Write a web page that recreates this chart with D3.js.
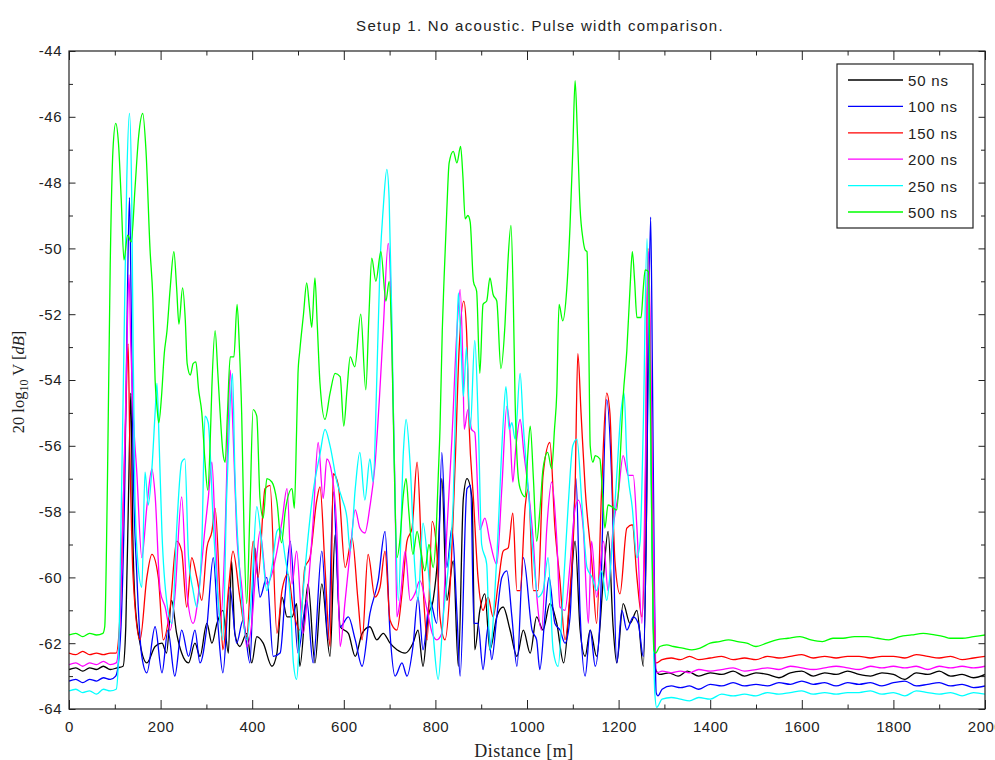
<!DOCTYPE html>
<meta charset="utf-8">
<style>
body { margin: 0; background: #fff; }
text { font-family: "Liberation Sans", Arial, sans-serif; }
.tick text { font-size: 15px; fill: #222; letter-spacing: 0.5px; }
.tick line { stroke: #222; }
.serif { font-family: "Liberation Serif", "DejaVu Serif", serif; }
</style>
<svg width="995" height="760"></svg>
<script src="https://d3js.org/d3.v7.min.js"></script>
<script>

// x ticks, y ticks
const xTicks = [0, 200, 400, 600, 800, 1000, 1200, 1400, 1600, 1800, 2000];
const yTicks = [-64, -62, -60, -58, -56, -54, -52, -50, -48, -46, -44];

const labels = ['50 ns', '100 ns', '150 ns', '200 ns', '250 ns', '500 ns'];
const colors = ['#000000', '#0000ff', '#ff0000', '#ff00ff', '#00ffff', '#00ff00'];

// [distance m, 20 log10 V dB]
const ns50 = [[0,-62.8],[15,-62.75],[30,-62.85],[45,-62.75],[60,-62.8],[75,-62.7],[90,-62.8],[105,-62.75],[118,-62.7],[124,-61.5],[130,-57.5],[135,-54.4],[139,-58.5],[144,-60.7],[155,-62.0],[170,-62.6],[188,-62.1],[203,-62.0],[213,-62.3],[224,-60.7],[235,-61.7],[246,-62.3],[261,-62.6],[275,-62.0],[286,-62.4],[301,-61.4],[312,-62.0],[323,-61.4],[336,-61.0],[348,-62.3],[355,-59.5],[362,-61.7],[373,-62.1],[388,-61.7],[399,-62.6],[410,-61.8],[424,-62.0],[443,-62.7],[454,-62.3],[465,-60.6],[476,-61.2],[487,-61.2],[497,-60.8],[504,-62.7],[522,-60.2],[537,-62.6],[552,-60.2],[570,-62.4],[581,-58.7],[592,-61.5],[610,-61.7],[625,-62.4],[640,-61.7],[657,-61.5],[672,-61.9],[686,-61.7],[701,-62.0],[716,-62.2],[734,-62.3],[751,-62.0],[762,-61.6],[773,-62.7],[784,-61.2],[795,-60.7],[806,-59.2],[814,-57.0],[825,-60.7],[839,-59.5],[850,-62.7],[861,-57.6],[869,-57.0],[880,-57.6],[886,-62.2],[897,-61.0],[908,-60.5],[919,-62.2],[934,-61.2],[948,-60.9],[963,-61.6],[978,-62.4],[992,-61.6],[1007,-62.3],[1021,-61.2],[1035,-61.6],[1050,-60.8],[1065,-61.4],[1080,-62.6],[1094,-60.6],[1105,-58.9],[1116,-61.6],[1127,-62.4],[1138,-61.6],[1152,-62.4],[1167,-60.0],[1177,-58.6],[1188,-61.5],[1196,-62.6],[1210,-60.8],[1225,-61.4],[1240,-61.0],[1254,-62.7],[1261,-58],[1266,-51.7],[1271,-56],[1276,-61.5],[1281,-62.8],[1290,-62.95],[1310,-62.9],[1330,-63.0],[1350,-62.85],[1375,-63.0],[1400,-62.9],[1425,-62.95],[1450,-62.85],[1475,-63.0],[1500,-62.9],[1525,-62.95],[1550,-63.05],[1575,-62.9],[1600,-62.85],[1625,-63.0],[1650,-62.9],[1675,-62.95],[1700,-62.85],[1725,-62.95],[1750,-63.0],[1775,-62.9],[1800,-62.95],[1825,-63.1],[1850,-62.9],[1875,-62.95],[1900,-62.85],[1925,-63.0],[1950,-62.95],[1975,-63.05],[2000,-62.95]];

const ns100 = [[0,-63.15],[15,-63.1],[30,-63.2],[45,-63.1],[60,-63.15],[75,-63.05],[90,-63.1],[102,-63.0],[108,-62.6],[115,-61],[122,-57],[127,-52],[132,-48.45],[136,-52],[140,-56.5],[148,-59.9],[159,-62.4],[170,-62.9],[188,-61.5],[203,-62.9],[216,-61.6],[231,-63.0],[246,-61.6],[261,-62.4],[275,-61.6],[286,-62.6],[301,-61.5],[315,-59.4],[325,-61.4],[336,-62.9],[351,-60.3],[366,-62.0],[380,-61.3],[395,-62.6],[406,-59.1],[417,-60.6],[432,-60.0],[446,-62.4],[461,-62.3],[472,-60.5],[483,-58.9],[500,-62.3],[519,-60.7],[533,-62.6],[552,-59.2],[566,-61.9],[577,-57.4],[592,-61.5],[610,-61.2],[625,-61.9],[640,-62.7],[657,-61.1],[675,-60.1],[690,-58.6],[701,-61.7],[712,-63.0],[727,-62.6],[738,-63.0],[751,-62.1],[762,-60.6],[773,-62.2],[788,-60.7],[803,-61.4],[814,-56.2],[825,-59.7],[836,-58.5],[847,-61.1],[854,-63.0],[869,-57.3],[877,-57.2],[884,-61.4],[893,-61.4],[904,-62.8],[915,-61.5],[923,-62.5],[934,-61.2],[945,-60.0],[956,-59.8],[967,-61.2],[978,-62.7],[992,-59.4],[1011,-61.6],[1021,-61.9],[1028,-62.8],[1039,-61.2],[1048,-60.0],[1061,-61.4],[1072,-61.6],[1083,-62.0],[1094,-61.2],[1107,-57.0],[1116,-61.1],[1127,-63.0],[1138,-61.6],[1149,-62.7],[1159,-61.4],[1174,-54.6],[1185,-57.0],[1196,-62.6],[1207,-61.0],[1218,-61.6],[1232,-61.2],[1243,-61.4],[1254,-62.4],[1260,-59],[1265,-53],[1270,-49.05],[1274,-54],[1278,-60],[1282,-63.5],[1286,-63.6],[1295,-63.4],[1315,-63.3],[1335,-63.35],[1355,-63.3],[1375,-63.4],[1400,-63.25],[1425,-63.3],[1450,-63.2],[1475,-63.3],[1500,-63.25],[1525,-63.3],[1550,-63.2],[1575,-63.25],[1600,-63.15],[1625,-63.25],[1650,-63.2],[1675,-63.3],[1700,-63.2],[1725,-63.25],[1750,-63.2],[1775,-63.3],[1800,-63.2],[1825,-63.15],[1850,-63.3],[1875,-63.25],[1900,-63.2],[1925,-63.3],[1950,-63.25],[1975,-63.35],[2000,-63.3]];

const ns150 = [[0,-62.3],[15,-62.35],[30,-62.25],[45,-62.35],[60,-62.3],[75,-62.35],[90,-62.3],[103,-62.3],[110,-61.5],[118,-58],[124,-55],[129,-52.9],[133,-56.2],[140,-60],[155,-61.9],[170,-60.0],[181,-59.3],[195,-60.0],[206,-61.9],[221,-60.9],[235,-58.9],[246,-59.2],[257,-60.9],[268,-59.4],[279,-60.0],[290,-60.7],[301,-59.1],[312,-58.6],[319,-57.9],[330,-60.7],[336,-62.2],[348,-60.4],[358,-59.2],[373,-60.6],[388,-61.8],[402,-58.9],[413,-60.0],[428,-57.3],[439,-57.2],[454,-61.7],[465,-60.4],[478,-59.9],[490,-61.0],[504,-61.6],[515,-59.7],[526,-59.4],[541,-57.65],[548,-57.25],[559,-59.7],[570,-62.1],[577,-56.85],[588,-57.2],[603,-59.7],[618,-58.8],[631,-60.7],[640,-61.9],[653,-59.3],[668,-60.6],[679,-60.3],[690,-59.2],[701,-61.3],[716,-61.6],[727,-60.5],[738,-58.9],[749,-58.5],[760,-56.5],[771,-59.7],[782,-61.9],[793,-58.3],[803,-59.2],[810,-61.2],[821,-61.9],[832,-60.3],[843,-56.6],[852,-53],[862,-51.6],[868,-52.5],[874,-55.5],[883,-57.6],[893,-60.0],[904,-61.0],[915,-60.6],[926,-61.2],[937,-60.2],[948,-59.2],[959,-59.1],[969,-58.05],[978,-60.4],[985,-60.4],[996,-57.85],[1003,-57.3],[1014,-60.4],[1024,-60.4],[1035,-56.9],[1050,-55.9],[1061,-58.5],[1072,-60.1],[1083,-61.9],[1094,-60.4],[1105,-57.3],[1111,-53.2],[1118,-55],[1127,-57.3],[1142,-59.6],[1152,-61.4],[1163,-57.3],[1174,-54.4],[1181,-55.0],[1192,-59.5],[1203,-60.5],[1218,-58.5],[1230,-58.4],[1240,-60.0],[1251,-61.2],[1258,-58],[1264,-50.0],[1270,-54],[1276,-60],[1282,-62.6],[1295,-62.5],[1315,-62.45],[1335,-62.5],[1355,-62.4],[1375,-62.5],[1400,-62.45],[1425,-62.4],[1450,-62.5],[1475,-62.45],[1500,-62.5],[1525,-62.4],[1550,-62.45],[1575,-62.4],[1600,-62.35],[1625,-62.45],[1650,-62.4],[1675,-62.45],[1700,-62.4],[1725,-62.4],[1750,-62.45],[1775,-62.4],[1800,-62.4],[1825,-62.45],[1850,-62.35],[1875,-62.4],[1900,-62.45],[1925,-62.4],[1950,-62.5],[1975,-62.45],[2000,-62.4]];

const ns200 = [[0,-62.65],[15,-62.6],[30,-62.7],[45,-62.6],[60,-62.65],[75,-62.55],[90,-62.65],[103,-62.6],[110,-61.8],[118,-58],[125,-54],[131,-50.8],[135,-53],[140,-55],[148,-56.8],[159,-59.4],[170,-57.85],[181,-56.7],[188,-57.5],[199,-60.4],[210,-60.9],[221,-61.6],[231,-60.6],[246,-57.55],[257,-60.4],[271,-61.4],[286,-60.1],[297,-58.5],[304,-57.6],[312,-56.5],[319,-58.5],[330,-61.4],[341,-58.6],[347,-55.5],[352,-53.7],[358,-55.5],[366,-58.6],[378,-60.4],[388,-62.1],[399,-61.4],[410,-59.4],[417,-58.6],[432,-60.2],[443,-59.9],[454,-59.2],[465,-58.3],[476,-57.3],[487,-60.2],[497,-59.2],[511,-61.7],[522,-60.3],[533,-58.3],[544,-55.9],[555,-57.6],[563,-56.4],[574,-56.85],[585,-58.65],[592,-62.1],[603,-60.7],[614,-59.2],[625,-57.95],[635,-58.5],[646,-58.65],[657,-57.85],[668,-56.6],[678,-54.5],[686,-52.5],[697,-49.85],[702,-51],[706,-53.6],[712,-57.5],[716,-61.2],[723,-60.7],[734,-59.2],[745,-60.7],[755,-60.5],[766,-60.1],[782,-61.0],[793,-61.7],[803,-61.9],[814,-61.7],[825,-58.6],[836,-55.8],[847,-52.5],[854,-51.25],[860,-53.5],[863,-55.5],[871,-54.9],[879,-55.5],[886,-55.6],[897,-58.55],[908,-58.2],[919,-58.9],[934,-59.6],[945,-57.3],[956,-54.8],[963,-55.6],[969,-57.1],[976,-56],[985,-55.2],[993,-56.2],[1003,-57.35],[1014,-58.95],[1021,-60.5],[1032,-61.6],[1043,-58.55],[1054,-57.1],[1065,-58.85],[1072,-60.9],[1083,-61.0],[1094,-59.6],[1105,-57.9],[1112,-57.65],[1123,-58.55],[1134,-61.4],[1141,-58.9],[1152,-60.6],[1167,-58.9],[1177,-60.4],[1188,-58.5],[1199,-57.5],[1210,-56.3],[1221,-56.9],[1232,-56.9],[1240,-58.5],[1251,-61.4],[1258,-57],[1265,-50.1],[1271,-54],[1277,-60],[1283,-62.9],[1295,-62.85],[1315,-62.9],[1335,-62.85],[1355,-62.9],[1375,-62.8],[1400,-62.85],[1425,-62.8],[1450,-62.75],[1475,-62.85],[1500,-62.8],[1525,-62.75],[1550,-62.8],[1575,-62.7],[1600,-62.75],[1625,-62.8],[1650,-62.75],[1675,-62.7],[1700,-62.75],[1725,-62.8],[1750,-62.7],[1775,-62.75],[1800,-62.7],[1825,-62.75],[1850,-62.7],[1875,-62.8],[1900,-62.7],[1925,-62.75],[1950,-62.7],[1975,-62.75],[2000,-62.7]];

const ns250 = [[0,-63.45],[15,-63.4],[30,-63.5],[45,-63.45],[60,-63.55],[75,-63.4],[90,-63.45],[103,-63.4],[108,-62.5],[114,-58],[120,-53],[126,-48],[132,-45.9],[137,-48.5],[140,-53],[144,-57.5],[150,-59.5],[159,-60.3],[166,-56.8],[173,-57.8],[181,-56.7],[188,-55.0],[192,-54.1],[197,-56],[203,-58.65],[214,-60.8],[225,-61.4],[235,-58.55],[246,-56.5],[253,-56.4],[261,-59.4],[271,-60.4],[279,-60.9],[290,-59.0],[297,-55.1],[304,-55.3],[315,-58.35],[325,-60.6],[336,-61.9],[344,-57.65],[351,-55],[357,-53.8],[362,-56.7],[373,-59.9],[388,-61.9],[399,-60.4],[410,-57.85],[421,-59.0],[432,-60.4],[443,-59.7],[454,-58.6],[461,-58.5],[472,-59.4],[483,-60.6],[490,-62.6],[497,-63.1],[504,-61.7],[519,-59.2],[533,-57.4],[548,-56.25],[559,-55.5],[570,-56.0],[585,-57.1],[596,-57.6],[607,-58.2],[614,-59.2],[625,-57.3],[635,-56.2],[646,-57.65],[657,-56.4],[664,-57.1],[672,-54],[679,-50.5],[686,-48.8],[694,-47.6],[699,-48.5],[705,-52.2],[709,-55.5],[712,-57.65],[719,-60.7],[730,-56.2],[736,-55.2],[745,-56.6],[755,-59.7],[762,-60.7],[773,-58.35],[784,-59.7],[795,-61.7],[806,-63.1],[817,-61.2],[828,-59.7],[839,-57.65],[845,-54],[850,-51.35],[856,-53],[861,-54.5],[868,-53.0],[876,-55.5],[886,-52.8],[894,-55.5],[901,-59.0],[912,-59.6],[919,-62.2],[934,-59.4],[948,-55.3],[954,-54.2],[961,-55.5],[967,-55.3],[974,-55.8],[985,-53.8],[992,-55.4],[1003,-57.35],[1014,-59.4],[1024,-60.6],[1035,-60.4],[1046,-59.4],[1057,-62.2],[1068,-62.7],[1079,-60.4],[1090,-57.8],[1100,-56.0],[1109,-55.8],[1120,-57.8],[1131,-59.7],[1142,-60.0],[1152,-60.4],[1163,-59.8],[1174,-60.7],[1185,-59.2],[1196,-56.9],[1205,-55],[1212,-54.4],[1218,-56.4],[1230,-57.9],[1240,-59.4],[1247,-58.9],[1254,-55.3],[1262,-49.7],[1268,-54],[1274,-60],[1279,-63.5],[1283,-63.95],[1295,-63.7],[1315,-63.65],[1335,-63.7],[1355,-63.75],[1375,-63.65],[1400,-63.7],[1425,-63.55],[1450,-63.6],[1475,-63.55],[1500,-63.6],[1525,-63.5],[1550,-63.55],[1575,-63.5],[1600,-63.45],[1625,-63.55],[1650,-63.5],[1675,-63.55],[1700,-63.5],[1725,-63.5],[1750,-63.45],[1775,-63.55],[1800,-63.5],[1825,-63.6],[1850,-63.45],[1875,-63.5],[1900,-63.55],[1925,-63.5],[1950,-63.6],[1975,-63.5],[2000,-63.55]];

const ns500 = [[0,-61.75],[15,-61.7],[30,-61.8],[45,-61.7],[60,-61.75],[74,-61.7],[78,-61.5],[84,-57],[90,-50.5],[96,-47],[102,-46.2],[108,-46.8],[114,-48.5],[120,-50.35],[128,-49.6],[136,-49.8],[144,-48.2],[152,-46.6],[161,-45.9],[168,-47.0],[177,-50.05],[183,-51.5],[188,-54],[192,-54.8],[196,-55.3],[202,-54.5],[208,-53.2],[214,-52.5],[221,-51.2],[229,-50.1],[235,-51.2],[240,-52.3],[248,-51.2],[254,-52.2],[258,-53.5],[265,-53.85],[271,-53.5],[277,-53.45],[283,-54.3],[290,-55.0],[297,-56.5],[303,-57.35],[308,-56],[312,-54.2],[319,-52.5],[325,-53.8],[330,-55.0],[336,-56.2],[341,-56.5],[346,-55],[352,-53.3],[360,-53.3],[367,-51.7],[372,-53],[377,-55],[382,-58.5],[388,-60.8],[395,-58],[402,-54.9],[410,-55.1],[417,-57.6],[424,-58.2],[432,-57.0],[443,-57.1],[454,-57.7],[464,-58.95],[472,-58.0],[487,-57.3],[492,-57.9],[497,-55.5],[500,-53.8],[504,-53.1],[512,-52],[519,-51.05],[525,-51.8],[530,-52.4],[537,-50.9],[542,-52.3],[548,-54.1],[559,-55.2],[570,-54.4],[581,-53.8],[592,-53.9],[600,-55.4],[607,-54.3],[614,-53.3],[624,-53.6],[637,-52.0],[648,-54.3],[655,-52],[661,-50.3],[670,-51.0],[681,-50.1],[692,-51.6],[699,-51.0],[705,-53],[710,-56.5],[716,-59.4],[723,-58.8],[730,-57.5],[736,-57.0],[742,-58],[751,-59.3],[760,-58.6],[768,-59.2],[777,-59.8],[786,-59.0],[795,-59.7],[802,-58.5],[806,-57],[810,-55.5],[815,-52.5],[819,-50.9],[825,-48.8],[830,-47.4],[839,-47.05],[847,-47.4],[855,-46.9],[860,-47.8],[865,-49.1],[871,-49.0],[876,-49.2],[883,-51.0],[890,-51.3],[897,-53.8],[904,-51.7],[912,-51.6],[919,-50.9],[926,-51.4],[934,-51.6],[943,-53.65],[952,-52.3],[958,-50.5],[965,-49.3],[970,-51.5],[974,-54.6],[980,-56.8],[985,-57.3],[996,-57.55],[1002,-56.2],[1007,-55.4],[1014,-57],[1021,-58.9],[1028,-58],[1035,-56.7],[1045,-56.2],[1054,-56.7],[1060,-55.5],[1065,-54.4],[1070,-51.7],[1078,-52.2],[1087,-51.2],[1094,-49.3],[1100,-47],[1105,-44.9],[1110,-46.5],[1116,-48.8],[1122,-49.7],[1127,-50.05],[1131,-50.1],[1135,-53],[1138,-56.0],[1144,-56.5],[1149,-56.3],[1159,-56.4],[1165,-57.5],[1170,-58.5],[1177,-57.8],[1185,-57.85],[1196,-57.95],[1203,-56.5],[1210,-54.5],[1218,-53.1],[1225,-51.2],[1230,-50.1],[1235,-51],[1240,-52.1],[1249,-52.1],[1254,-51.2],[1258,-50.65],[1265,-50.7],[1269,-54],[1273,-59],[1277,-62.2],[1281,-62.3],[1290,-62.1],[1305,-62.05],[1320,-62.1],[1340,-62.15],[1360,-62.2],[1378,-62.15],[1400,-62.0],[1420,-61.95],[1440,-61.9],[1460,-61.95],[1480,-62.0],[1500,-62.1],[1523,-62.0],[1545,-61.9],[1570,-61.85],[1596,-61.8],[1620,-61.9],[1645,-61.95],[1668,-61.85],[1690,-61.85],[1715,-61.8],[1742,-61.8],[1765,-61.85],[1790,-61.9],[1814,-61.8],[1840,-61.75],[1865,-61.7],[1890,-61.75],[1910,-61.8],[1924,-61.85],[1950,-61.85],[1975,-61.8],[2000,-61.75]];

const series = [ns50, ns100, ns150, ns200, ns250, ns500];

let svg = d3.select('svg');
let pLeft = 69, pRight = 985, pTop = 51, pBottom = 709;

let x = d3.scaleLinear().domain([0, 2000]).range([pLeft, pRight]);
let y = d3.scaleLinear().domain([-64, -44]).range([pBottom, pTop]);

svg.append('defs').append('clipPath').attr('id', 'clip')
  .append('rect').attr('x', pLeft).attr('y', pTop)
  .attr('width', pRight - pLeft).attr('height', pBottom - pTop);

// lines
let line = d3.line()
  .x(d => x(d[0]))
  .y(d => y(d[1]))
  .curve(d3.curveMonotoneX);

svg.append('g').attr('clip-path', 'url(#clip)')
  .selectAll('path')
  .data(series)
  .enter().append('path')
    .attr('d', line)
    .attr('fill', 'none')
    .attr('stroke', (d, i) => colors[i])
    .attr('stroke-width', 1.3)
    .attr('stroke-linejoin', 'round');

// axes, ticks pointing inward; plain labels like "-44" and "1000"
let plain = d => String(d);
let xMinor = d3.range(100, 2000, 200);
let yMinor = d3.range(-63, -44, 2);

let axes = [
  [d3.axisBottom(x).tickValues(xTicks).tickSize(-9).tickPadding(12).tickFormat(plain), 0, pBottom],
  [d3.axisBottom(x).tickValues(xMinor).tickSize(-4.5).tickFormat(''), 0, pBottom],
  [d3.axisTop(x).tickValues(xTicks).tickSize(-9).tickFormat(''), 0, pTop],
  [d3.axisTop(x).tickValues(xMinor).tickSize(-4.5).tickFormat(''), 0, pTop],
  [d3.axisLeft(y).tickValues(yTicks).tickSize(-6.5).tickPadding(7).tickFormat(plain), pLeft, 0],
  [d3.axisLeft(y).tickValues(yMinor).tickSize(-4).tickFormat(''), pLeft, 0],
  [d3.axisRight(y).tickValues(yTicks).tickSize(-6.5).tickFormat(''), pRight, 0],
  [d3.axisRight(y).tickValues(yMinor).tickSize(-4).tickFormat(''), pRight, 0]
];
axes.forEach(a => {
  let g = svg.append('g')
    .attr('transform', 'translate(' + a[1] + ',' + a[2] + ')')
    .call(a[0].tickSizeOuter(0));
  g.select('.domain').remove();
  g.attr('font-family', null).attr('font-size', null);
});

svg.append('rect')
  .attr('x', pLeft).attr('y', pTop)
  .attr('width', pRight - pLeft).attr('height', pBottom - pTop)
  .attr('fill', 'none').attr('stroke', '#222').attr('stroke-width', 1.2);

// title and axis labels
svg.append('text')
  .attr('x', 540).attr('y', 31)
  .attr('text-anchor', 'middle')
  .style('font-size', '15px').style('letter-spacing', '1.3px').style('fill', '#222')
  .text('Setup 1. No acoustic. Pulse width comparison.');

svg.append('text')
  .attr('class', 'serif')
  .attr('x', 524).attr('y', 757)
  .attr('text-anchor', 'middle')
  .style('font-size', '18px').style('letter-spacing', '0.5px').style('fill', '#222')
  .text('Distance [m]');

let yl = svg.append('text')
  .attr('class', 'serif')
  .attr('transform', 'translate(24,382) rotate(-90)')
  .attr('text-anchor', 'middle')
  .style('font-size', '16.5px').style('fill', '#222');
yl.append('tspan').text('20 log');
yl.append('tspan').attr('dy', 4).style('font-size', '12px').text('10');
yl.append('tspan').attr('dy', -4).text(' V [');
yl.append('tspan').style('font-style', 'italic').text('dB');
yl.append('tspan').text(']');

// legend
let lg = svg.append('g');
lg.append('rect')
  .attr('x', 837).attr('y', 64).attr('width', 136).attr('height', 164)
  .attr('fill', '#fff').attr('stroke', '#222').attr('stroke-width', 1.2);

let item = lg.selectAll('g.item')
  .data(labels)
  .enter().append('g')
    .attr('class', 'item')
    .attr('transform', (d, i) => 'translate(0,' + (80 + i * 26.4) + ')');

item.append('line')
  .attr('x1', 848).attr('x2', 903)
  .attr('stroke', (d, i) => colors[i])
  .attr('stroke-width', 1.3);

item.append('text')
  .attr('x', 908).attr('y', 6)
  .style('font-size', '15px').style('letter-spacing', '0.8px').style('fill', '#222')
  .text(d => d);

</script>
